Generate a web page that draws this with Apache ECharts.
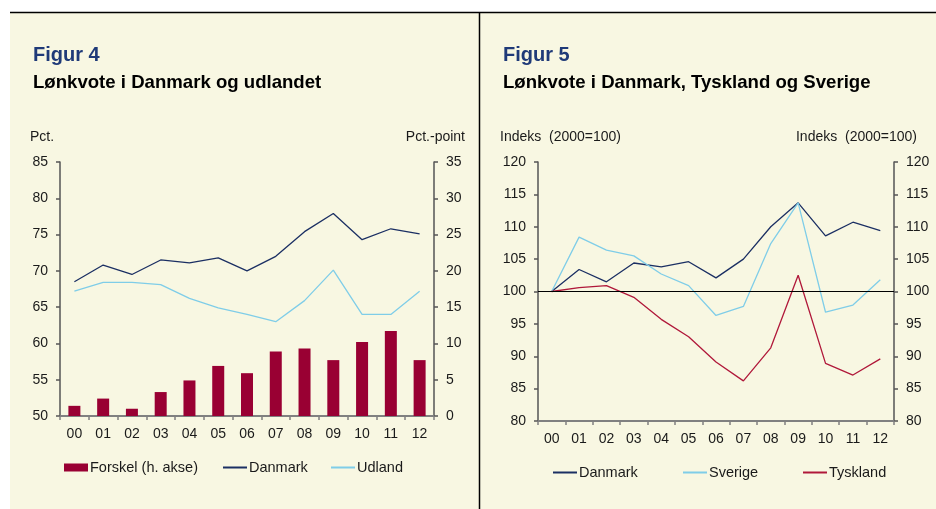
<!DOCTYPE html>
<html>
<head>
<meta charset="utf-8">
<script src="https://cdn.jsdelivr.net/npm/echarts@6/dist/echarts.min.js"></script>
<style>
html,body{margin:0;padding:0;background:#fff;}
#c{width:936px;height:509px;}
</style>
</head>
<body>
<div id="c"></div>
<script>
// ---- data ----
var categories = ['00','01','02','03','04','05','06','07','08','09','10','11','12'];
// Figur 4
var forskel   = [1.4, 2.4, 1.0, 3.3, 4.9, 6.9, 5.9, 8.9, 9.3, 7.7, 10.2, 11.7, 7.7];
var danmark4  = [68.5, 70.8, 69.5, 71.5, 71.1, 71.8, 70.0, 72.0, 75.4, 77.9, 74.3, 75.8, 75.1];
var udland    = [67.2, 68.4, 68.4, 68.1, 66.2, 64.9, 64.0, 63.0, 65.9, 70.1, 64.0, 64.0, 67.2];
// Figur 5
var danmark5  = [100, 103.4, 101.5, 104.4, 103.8, 104.6, 102.1, 105.0, 110.0, 113.7, 108.6, 110.7, 109.4];
var sverige   = [100, 108.4, 106.4, 105.5, 102.7, 100.9, 96.3, 97.7, 107.4, 113.7, 96.8, 97.9, 101.8];
var tyskland  = [100, 100.6, 100.9, 99.1, 95.7, 93.0, 89.1, 86.2, 91.3, 102.5, 88.9, 87.1, 89.6];
var axis4Left  = {min: 50, max: 85, interval: 5};
var axis4Right = {min: 0, max: 35, interval: 5};
var axis5      = {min: 80, max: 120, interval: 5};

// ---- styles ----
var FONT = '"Liberation Sans", Arial, sans-serif';
var CREAM = '#F8F7E2';
var NAVY = '#1B2F63';
var LIGHT = '#7FCDE8';
var BAR = '#990033';
var RED = '#B0183A';
var TXT = '#1a1a1a';

function yAx(gi, cfg, pos){
  return {
    type:'value', gridIndex: gi, position: pos, min: cfg.min, max: cfg.max, interval: cfg.interval,
    axisLine:{show:true, lineStyle:{color:'#555', width:1.5}},
    axisTick:{show:true, length:4, lineStyle:{color:'#555', width:1.5}},
    axisLabel:{color:TXT, fontSize:14, fontFamily:FONT, margin:12},
    splitLine:{show:false}
  };
}
function xAx(gi){
  return {
    type:'category', gridIndex: gi, data: categories, boundaryGap:true,
    axisLine:{show:true, lineStyle:{color:'#808080', width:2}},
    axisTick:{show:true, length:4, alignWithLabel:false, lineStyle:{color:'#808080', width:1.5}},
    axisLabel:{color:TXT, fontSize:14, fontFamily:FONT, margin:11}
  };
}
function leg(name, left, top, type){
  return {
    data:[name], left:left, top:top, padding:0, itemGap:0,
    icon:'rect', itemWidth:24, itemHeight: type === 'bar' ? 8 : 2,
    textStyle:{color:TXT, fontSize:14.5, fontFamily:FONT, padding:[0,0,0,-3]},
    selectedMode:false
  };
}
function txt(x, y, s, opt){
  return {type:'text', x:x, y:y, silent:true, style:Object.assign({text:s, fill:TXT, font:'14px '+FONT, verticalAlign:'middle', align:'left'}, opt||{})};
}

var option = {
  backgroundColor:'#ffffff',
  animation:false,
  graphic:[
    {type:'rect', shape:{x:10, y:12, width:470, height:497}, style:{fill:CREAM}, z:-10, silent:true},
    {type:'rect', shape:{x:480, y:12, width:456, height:497}, style:{fill:CREAM}, z:-10, silent:true},
    {type:'line', shape:{x1:10, y1:12.5, x2:936, y2:12.5}, style:{stroke:'#000', lineWidth:1.5}, z:-5, silent:true},
    {type:'line', shape:{x1:479.5, y1:12, x2:479.5, y2:509}, style:{stroke:'#000', lineWidth:1.5}, z:-5, silent:true},
    txt(33, 55, 'Figur 4', {fill:'#1F3A78', font:'bold 20px '+FONT}),
    txt(33, 83, 'Lønkvote i Danmark og udlandet', {fill:'#000', font:'bold 18.6px '+FONT}),
    txt(503, 55, 'Figur 5', {fill:'#1F3A78', font:'bold 20px '+FONT}),
    txt(503, 83, 'Lønkvote i Danmark, Tyskland og Sverige', {fill:'#000', font:'bold 18.6px '+FONT}),
    txt(30, 137, 'Pct.'),
    txt(465, 137, 'Pct.-point', {align:'right'}),
    txt(500, 137, 'Indeks  (2000=100)'),
    txt(917, 137, 'Indeks  (2000=100)', {align:'right'})
  ],
  grid:[
    {left:60, right:502, top:162, bottom:93},
    {left:538, right:42, top:162, bottom:88}
  ],
  xAxis:[xAx(0), xAx(1)],
  yAxis:[
    yAx(0, axis4Left, 'left'),
    yAx(0, axis4Right, 'right'),
    yAx(1, axis5, 'left'),
    yAx(1, axis5, 'right')
  ],
  legend:[
    leg('Forskel (h. akse)', 64, 460, 'bar'),
    leg('Danmark', 223, 460),
    leg('Udland', 331, 460),
    leg('Danmark ', 553, 465),
    leg('Sverige', 683, 465),
    leg('Tyskland', 803, 465)
  ],
  series:[
    {name:'Forskel (h. akse)', type:'bar', xAxisIndex:0, yAxisIndex:1, data:forskel, barWidth:12,
     itemStyle:{color:BAR}},
    {name:'Danmark', type:'line', xAxisIndex:0, yAxisIndex:0, data:danmark4, symbol:'none',
     lineStyle:{color:NAVY, width:1.3}, itemStyle:{color:NAVY}},
    {name:'Udland', type:'line', xAxisIndex:0, yAxisIndex:0, data:udland, symbol:'none',
     lineStyle:{color:LIGHT, width:1.3}, itemStyle:{color:LIGHT}},
    {name:'Danmark ', type:'line', xAxisIndex:1, yAxisIndex:2, data:danmark5, symbol:'none',
     lineStyle:{color:NAVY, width:1.3}, itemStyle:{color:NAVY},
     markLine:{silent:true, symbol:'none', label:{show:false}, lineStyle:{color:'#000', width:1.2, type:'solid'},
       data:[{yAxis:100}]}},
    {name:'Sverige', type:'line', xAxisIndex:1, yAxisIndex:2, data:sverige, symbol:'none',
     lineStyle:{color:LIGHT, width:1.3}, itemStyle:{color:LIGHT}},
    {name:'Tyskland', type:'line', xAxisIndex:1, yAxisIndex:2, data:tyskland, symbol:'none',
     lineStyle:{color:RED, width:1.3}, itemStyle:{color:RED}}
  ]
};
var chart = echarts.init(document.getElementById('c'), null, {renderer:'canvas'});
chart.setOption(option);
</script>
</body>
</html>
